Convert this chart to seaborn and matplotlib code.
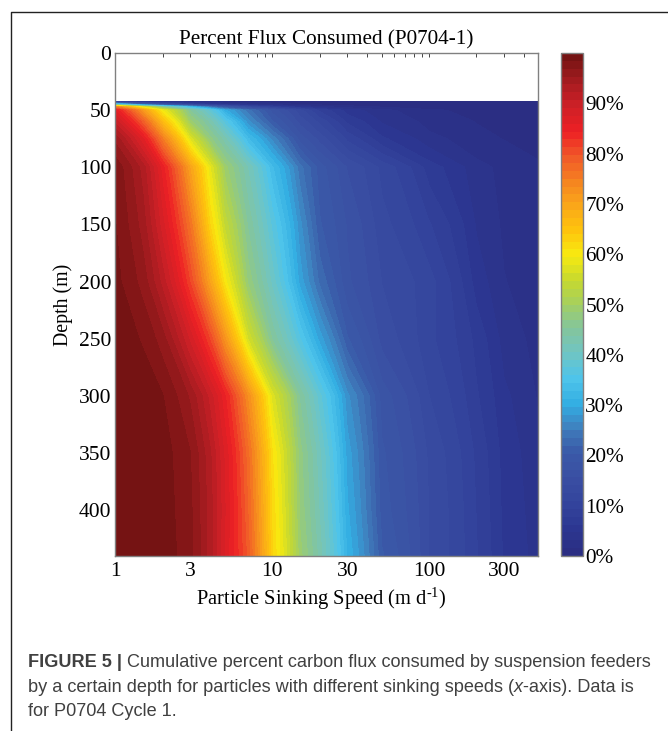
import numpy as np
import matplotlib
matplotlib.use("Agg")
import matplotlib.pyplot as plt
from matplotlib.ticker import FixedLocator, NullFormatter, FixedFormatter
import seaborn as sns

sns.set_theme(style="white")
plt.rcParams["font.family"] = ["Liberation Serif", "DejaVu Serif"]
plt.rcParams["mathtext.default"] = "regular"

speeds = [1, 1.5, 2, 3, 4, 5, 7, 10, 15, 20, 30, 50, 100, 200, 300, 490]
depths = [42, 45, 47, 50, 60, 75, 100, 150, 200, 250, 300, 350, 400, 440]
p042 = [2, 1, 0.6, 0.4, 0.3, 0.3, 0.2, 0.2, 0.2, 0.1, 0.1, 0.1, 0.1, 0.1, 0.1, 0.1]
p045 = [38, 22, 15, 9.5, 6.5, 5, 3.5, 2.5, 1.5, 1, 0.7, 0.5, 0.3, 0.2, 0.2, 0.2]
p047 = [74, 56, 44, 31, 23, 18, 12, 8, 5, 3.5, 2.2, 1.3, 0.7, 0.4, 0.3, 0.3]
p050 = [85.5, 71, 59, 45, 38, 30, 24, 18, 13, 9, 5.5, 3.5, 1.8, 1, 0.8, 0.6]
p060 = [90, 78.5, 66, 49, 43, 36.5, 27, 20.5, 15, 12, 7.5, 4.5, 2.5, 1.5, 1, 0.9]
p075 = [94.8, 86, 75, 57, 47.5, 42.5, 33, 26, 18, 15, 10.5, 6.5, 3.6, 2, 1.5, 1.2]
p100 = [98, 93, 85, 70, 58, 49, 42, 33, 24, 19.5, 15.5, 12, 7, 3.6, 2.7, 1.7]
p150 = [98.5, 94.5, 88, 76, 62.5, 54, 45, 37, 27, 20.5, 17, 13, 9.5, 4.5, 2.8, 1.8]
p200 = [98.9, 96.2, 91.5, 81, 70, 60, 48, 40, 29, 23, 17.5, 14, 11.5, 5.5, 3.2, 2]
p250 = [99.55, 98.2, 96, 88.5, 81, 72, 56, 45, 36, 29, 20.5, 15, 11.3, 7.3, 4, 2.5]
p300 = [99.9, 99.5, 98.5, 95, 90, 84.5, 73, 57, 45, 38, 27, 18, 12.5, 8, 5, 3]
p350 = [99.9, 99.6, 99.1, 96.9, 92.5, 87, 77, 61, 47.5, 41, 29, 19, 13.7, 9, 5.6, 3.5]
p400 = [99.9, 99.65, 99.2, 97.2, 93, 87.5, 78, 62, 48, 42, 30, 19.5, 14, 9.3, 5.8, 3.8]
p440 = [99.9, 99.7, 99.3, 97.4, 93, 87, 79, 62.5, 49, 43, 31, 20.5, 14, 9.5, 6, 4]
percent = [p042, p045, p047, p050, p060, p075, p100, p150, p200, p250, p300, p350, p400, p440]

x_ticks = [1, 3, 10, 30, 100, 300]
y_ticks = [0, 50, 100, 150, 200, 250, 300, 350, 400]
bar_ticks = [0, 10, 20, 30, 40, 50, 60, 70, 80, 90]
title = "Percent Flux Consumed (P0704-1)"
xlabel = "Particle Sinking Speed (m d$^{\u20101}$)"
ylabel = "Depth (m)"
caption_bold = "FIGURE 5 |"
caption_1 = " Cumulative percent carbon flux consumed by suspension feeders"
caption_2 = "by a certain depth for particles with different sinking speeds ("
caption_3 = "for P0704 Cycle 1."

stops = ["#2b2e83", "#2c3792", "#34459d", "#3a4fa3", "#3a5aa8", "#3f7fbd", "#33aee3",
         "#4fc4ea", "#6fc5c4", "#84c59c", "#a3cf62", "#c6d92f", "#f8ea10", "#fec40d",
         "#faa61a", "#f58220", "#f15a29", "#ed2024", "#cf2027", "#a51c20", "#751313"]
palette = sns.blend_palette(stops, n_colors=64)
levels = np.linspace(0, 100, 65)

W, H = 668, 731
fig = plt.figure(figsize=(W / 100, H / 100), dpi=100, facecolor="white")
ax = fig.add_axes([115.5 / W, 1 - 556 / H, 422 / W, 503 / H])
cax = fig.add_axes([561 / W, 1 - 556 / H, 21.5 / W, 503 / H])

cf = ax.contourf(speeds, depths, np.array(percent), levels=levels, colors=palette,
                 antialiased=False)
ax.set_xscale("log")
ax.set_xlim(1, 490)
ax.set_ylim(440, 0)
ax.xaxis.set_major_locator(FixedLocator(x_ticks))
ax.xaxis.set_major_formatter(FixedFormatter([str(v) for v in x_ticks]))
ax.xaxis.set_minor_locator(FixedLocator([2, 4, 5, 6, 7, 8, 9, 20, 40, 50, 60, 70, 80, 90, 200, 400]))
ax.xaxis.set_minor_formatter(NullFormatter())
ax.set_yticks(y_ticks)
ax.tick_params(axis="both", which="both", direction="in", top=True, right=True,
               bottom=True, left=True, color="#444444", width=0.7, length=3.2,
               labelsize=15.5, labelcolor="black", pad=4)
ax.tick_params(axis="y", pad=3)
ax.set_title(title, fontsize=15.2, color="black", pad=6)
ax.set_xlabel(xlabel, fontsize=14.8, color="black")
ax.xaxis.set_label_coords(0.488, -0.060)
ax.set_ylabel(ylabel, fontsize=14.3, color="black")
ax.yaxis.set_label_coords(-0.1007, 0.5)
for s in ax.spines.values():
    s.set_visible(True)
    s.set_color("#808080")
    s.set_linewidth(1)

cb = fig.colorbar(cf, cax=cax, ticks=bar_ticks, format="%d%%", drawedges=False)
cb.ax.tick_params(direction="in", right=True, color="#444444", width=0.7, length=3.6,
                  labelsize=15.3, labelcolor="black", pad=2)
cb.outline.set_edgecolor("#808080")
cb.outline.set_linewidth(1)

# panel frame of the source page
fig.add_artist(plt.Line2D([11 / W, 11 / W, 1], [0, 1 - 11.5 / H, 1 - 11.5 / H], color="#222222", lw=1))

# caption
cap = dict(family="Liberation Sans", fontsize=13.1, color="#404040", va="baseline")
rnd = fig.canvas.get_renderer()
t = fig.text(28 / W, 1 - 667 / H, caption_bold, fontweight="bold", **cap)
x0 = t.get_window_extent(rnd).x1
fig.text(x0 / W, 1 - 667 / H, caption_1, **cap)
t = fig.text(28 / W, 1 - 692 / H, caption_2, **cap)
x0 = t.get_window_extent(rnd).x1
t = fig.text(x0 / W, 1 - 692 / H, "x", style="italic", **cap)
x0 = t.get_window_extent(rnd).x1
fig.text(x0 / W, 1 - 692 / H, "-axis). Data is", **cap)
fig.text(28 / W, 1 - 716 / H, caption_3, **cap)

fig.savefig("out.png", dpi=100, facecolor="white")
